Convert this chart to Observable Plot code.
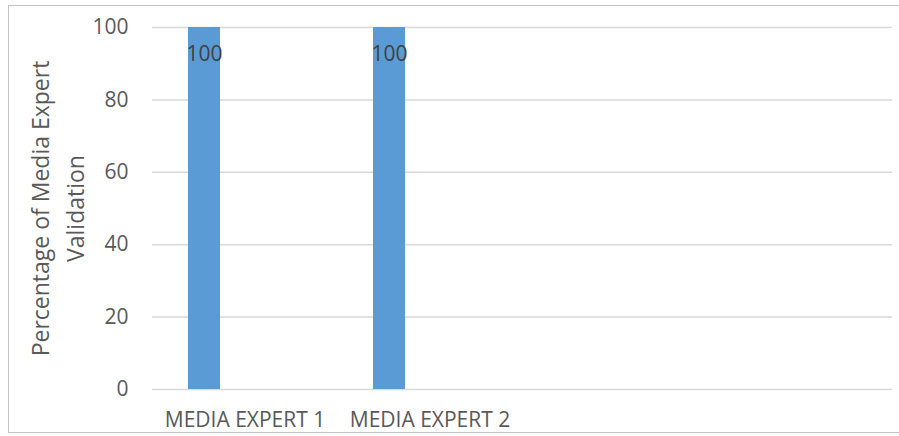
<!DOCTYPE html>
<html>
<head>
<meta charset="utf-8">
<script src="https://cdn.jsdelivr.net/npm/d3@7"></script>
<script src="https://cdn.jsdelivr.net/npm/@observablehq/plot@0.6"></script>
<style>
  html, body { margin: 0; padding: 0; background: #fff; }
  #wrap { position: relative; width: 899px; height: 436px; overflow: hidden; }
  #border { position: absolute; left: 8px; top: 5px; width: 900px; height: 428px; border: 1.5px solid #c4c4c4; box-sizing: border-box; }
  #chart { position: absolute; left: 0; top: 0; }
</style>
</head>
<body>
<div id="wrap"><div id="border"></div><div id="chart"></div></div>
<script>
const categories = ["MEDIA EXPERT 1", "MEDIA EXPERT 2", "slot 3", "slot 4"];
const shownLabels = ["MEDIA EXPERT 1", "MEDIA EXPERT 2", "", ""];
const barCategories = ["MEDIA EXPERT 1", "MEDIA EXPERT 2"];
const values = [100, 100];
const yTicks = [0, 20, 40, 60, 80, 100];
const yTitle = "Percentage of Media Expert\nValidation";

const data = barCategories.map((c, i) => ({category: c, value: values[i]}));
const font = "'Open Sans', sans-serif";

const plot = Plot.plot({
  width: 899,
  height: 436,
  marginLeft: 152,
  marginRight: 7,
  marginTop: 27,
  marginBottom: 47,
  style: {fontFamily: font, fontSize: "21px", color: "#595959", background: "transparent"},
  x: {domain: categories, padding: 0, label: null},
  y: {domain: [0, 100], label: null},
  marks: [
    Plot.gridY(yTicks, {stroke: "#d9d9d9", strokeOpacity: 1, strokeWidth: 1.5}),
    Plot.barY(data, {x: "category", y: "value", fill: "#5b9bd5", insetLeft: 36, insetRight: 117}),
    Plot.text(data, {x: "category", y: "value", text: d => String(d.value), dx: -40.5, dy: 27, fill: "#404040", fontSize: 21}),
    Plot.axisY({ticks: yTicks, tickSize: 0, tickPadding: 24, fontSize: 21, fill: "#595959", label: null}),
    Plot.axisX({tickSize: 0, tickPadding: 23, fontSize: 21, fill: "#595959", label: null,
      tickFormat: d => shownLabels[categories.indexOf(d)]}),
    Plot.text([yTitle], {frameAnchor: "left", dx: -97, rotate: -90, text: d => d, fontSize: 23, fill: "#595959", lineAnchor: "middle", textAnchor: "middle", lineHeight: 1.5})
  ]
});
document.getElementById("chart").appendChild(plot);
</script>
</body>
</html>
